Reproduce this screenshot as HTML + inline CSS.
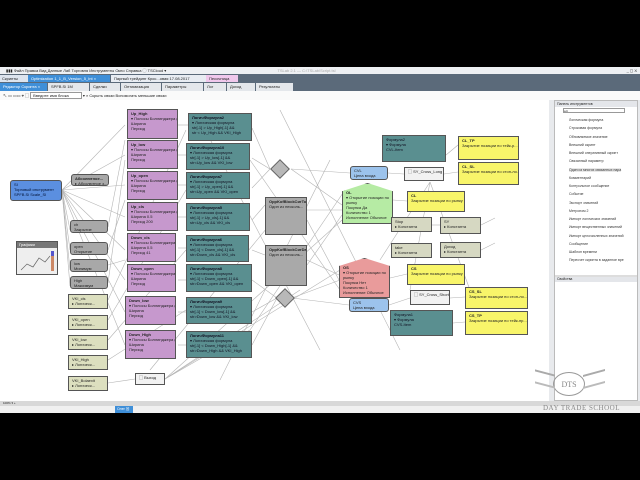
<!DOCTYPE html>
<html><head><meta charset="utf-8"><style>
*{margin:0;padding:0;box-sizing:border-box}
body{width:640px;height:480px;background:#000;position:relative;overflow:hidden;font-family:"Liberation Sans","Noto Sans CJK SC",sans-serif;font-size:4px;color:#222}
.a{position:absolute}
.n{position:absolute;border:1px solid #555;line-height:5px;padding:1px 3px;overflow:hidden;white-space:nowrap}
.pk{background:#c698cd}
.tl{background:#5a8f90;color:#112}
.gr{background:#a8a8a8;border-radius:3px}
.bl{background:#9cc3ec;border-radius:3px}
.vk{background:#dcdfbf}
.yl{background:#f8f56a}
.bg{background:#d6d8c2}
.b{font-weight:bold}
</style></head><body>
<div class="a" style="left:0;top:67px;width:640px;height:346px;background:#fff"></div>
<div class="a" style="left:0;top:67px;width:640px;height:7px;background:#eef0f3;font-size:4px;line-height:7px;padding-left:6px">▮▮▮ Файл Правка Вид Данные Лаб Торговля Инструменты Окно Справка ◯ TSCloud ▾ <span style="margin-left:110px;color:#aaa">TSLab 2.1 — C:\TSLab\Script.tsl</span><span style="position:absolute;right:3px">_ ◻ X</span></div>
<div class="a" style="left:0;top:74px;width:640px;height:8px;background:#5b6a7a"></div>
<div class="a" style="left:0;top:75px;width:28px;height:7px;background:#dde4ee;line-height:7px;padding-left:2px">Скрипты</div>
<div class="a" style="left:28px;top:75px;width:82px;height:7px;background:#3f8fd8;color:#fff;line-height:7px;padding-left:3px">Optimization 1_1_B_Version_5_Int ×</div>
<div class="a" style="left:111px;top:75px;width:95px;height:7px;background:#e8ecf2;line-height:7px;padding-left:3px">Парный трейдинг Крос...овая 17.08.2017</div>
<div class="a" style="left:206px;top:75px;width:32px;height:7px;background:#f0c8ec;line-height:7px;padding-left:3px">Песочница</div>
<div class="a" style="left:0;top:82px;width:640px;height:9px;background:#5b6a7a"></div>
<div class="a" style="left:0;top:83px;width:47px;height:8px;background:#3f8fd8;color:#fff;line-height:8px;padding-left:3px">Редактор Скрипта ×</div>
<div class="a" style="left:48px;top:83px;width:41px;height:8px;background:#e4e7eb;line-height:8px;padding-left:3px">SPFB.Si 1M</div>
<div class="a" style="left:90px;top:83px;width:30px;height:8px;background:#e4e7eb;line-height:8px;padding-left:3px">Сделки</div>
<div class="a" style="left:121px;top:83px;width:40px;height:8px;background:#e4e7eb;line-height:8px;padding-left:3px">Оптимизация</div>
<div class="a" style="left:162px;top:83px;width:41px;height:8px;background:#e4e7eb;line-height:8px;padding-left:3px">Параметры</div>
<div class="a" style="left:204px;top:83px;width:22px;height:8px;background:#e4e7eb;line-height:8px;padding-left:3px">Лог</div>
<div class="a" style="left:227px;top:83px;width:28px;height:8px;background:#e4e7eb;line-height:8px;padding-left:3px">Доход</div>
<div class="a" style="left:256px;top:83px;width:37px;height:8px;background:#e4e7eb;line-height:8px;padding-left:3px">Результаты</div>
<div class="a" style="left:0;top:91px;width:640px;height:9px;background:#fafafa;line-height:9px;padding-left:3px">↖ ▭ ▭▭ ⌖ ▢ <span style="border:1px solid #999;padding:0 12px 0 2px;background:#fff">Введите имя блока</span> ▾ <span>⌕ Скрыть связи Вспомогать меньшие связи</span></div>

<svg class="a" style="left:0;top:100px" width="550" height="302">
<g stroke="#b4b4b4" stroke-width="0.6" fill="none">
<line x1="62" y1="90" x2="125" y2="25"/><line x1="62" y1="90" x2="125" y2="55"/><line x1="62" y1="90" x2="125" y2="85"/><line x1="62" y1="90" x2="125" y2="117"/><line x1="62" y1="90" x2="125" y2="150"/><line x1="62" y1="90" x2="125" y2="180"/><line x1="62" y1="90" x2="125" y2="212"/><line x1="62" y1="90" x2="125" y2="245"/>
<line x1="62" y1="90" x2="70" y2="130"/><line x1="62" y1="90" x2="70" y2="150"/><line x1="62" y1="90" x2="70" y2="170"/><line x1="62" y1="90" x2="70" y2="186"/>
<line x1="108" y1="127" x2="125" y2="40"/><line x1="108" y1="150" x2="125" y2="100"/><line x1="108" y1="165" x2="125" y2="160"/><line x1="108" y1="183" x2="125" y2="60"/>
<line x1="108" y1="200" x2="186" y2="30"/><line x1="108" y1="220" x2="186" y2="90"/><line x1="108" y1="240" x2="186" y2="150"/><line x1="108" y1="260" x2="186" y2="210"/><line x1="108" y1="283" x2="135" y2="279"/>
<line x1="178" y1="25" x2="188" y2="25"/><line x1="178" y1="55" x2="188" y2="55"/><line x1="178" y1="85" x2="188" y2="85"/><line x1="178" y1="117" x2="188" y2="117"/><line x1="178" y1="148" x2="188" y2="148"/><line x1="178" y1="180" x2="188" y2="180"/><line x1="178" y1="212" x2="188" y2="212"/><line x1="178" y1="245" x2="188" y2="245"/>
<line x1="252" y1="28" x2="270" y2="69"/><line x1="252" y1="58" x2="270" y2="69"/><line x1="252" y1="88" x2="270" y2="69"/><line x1="252" y1="120" x2="265" y2="105"/><line x1="252" y1="150" x2="265" y2="155"/><line x1="252" y1="180" x2="277" y2="198"/><line x1="252" y1="212" x2="277" y2="198"/><line x1="252" y1="245" x2="277" y2="198"/>
<line x1="291" y1="69" x2="350" y2="73"/><line x1="291" y1="69" x2="342" y2="105"/><line x1="292" y1="198" x2="340" y2="180"/><line x1="292" y1="198" x2="349" y2="205"/>
<line x1="165" y1="279" x2="340" y2="170"/><line x1="165" y1="279" x2="342" y2="120"/><line x1="165" y1="279" x2="300" y2="190"/><line x1="165" y1="279" x2="250" y2="230"/>
<line x1="307" y1="110" x2="342" y2="110"/><line x1="307" y1="160" x2="339" y2="175"/><line x1="307" y1="120" x2="339" y2="180"/><line x1="307" y1="165" x2="342" y2="115"/>
<line x1="200" y1="20" x2="320" y2="250"/><line x1="220" y1="280" x2="330" y2="60"/><line x1="150" y1="270" x2="290" y2="100"/><line x1="280" y1="10" x2="400" y2="250"/><line x1="250" y1="60" x2="340" y2="190"/><line x1="250" y1="230" x2="345" y2="90"/>
<line x1="388" y1="73" x2="404" y2="74"/><line x1="446" y1="55" x2="458" y2="45"/><line x1="444" y1="74" x2="458" y2="72"/><line x1="393" y1="100" x2="407" y2="101"/><line x1="390" y1="178" x2="407" y2="174"/><line x1="389" y1="205" x2="410" y2="198"/><line x1="450" y1="198" x2="465" y2="197"/><line x1="453" y1="223" x2="465" y2="222"/>
<line x1="430" y1="82" x2="380" y2="160"/><line x1="430" y1="82" x2="470" y2="190"/><line x1="430" y1="82" x2="410" y2="190"/><line x1="432" y1="125" x2="440" y2="125"/><line x1="481" y1="125" x2="495" y2="118"/><line x1="481" y1="150" x2="495" y2="143"/>
</g>
</svg>

<div class="n bl" style="left:10px;top:180px;width:52px;height:21px;background:#5b8fe0;color:#013">SI<br>Торговый инструмент<br>SPFB.Si Scale_SI</div>
<div class="n gr b" style="left:71px;top:174px;width:38px;height:12px">Абсолютное...<br><span style="font-weight:normal">▸ Абсолютное з...</span></div>
<div class="n" style="left:16px;top:241px;width:42px;height:34px;background:#eee;padding:0"><div style="background:#777;color:#fff;height:6px;line-height:6px;padding-left:2px">Графики</div>
<svg width="40" height="27"><polyline points="4,22 10,16 16,19 22,10 28,14 33,8" fill="none" stroke="#666" stroke-width="0.7"/><rect x="34" y="5" width="3" height="18" fill="#c86"/><rect x="34" y="3" width="3" height="5" fill="#55c"/></svg></div>
<div class="n gr" style="left:70px;top:220px;width:38px;height:13px">ch<br>Закрытие</div>
<div class="n gr" style="left:70px;top:242px;width:38px;height:13px">open<br>Открытие</div>
<div class="n gr" style="left:70px;top:259px;width:38px;height:13px">low<br>Минимум</div>
<div class="n gr" style="left:70px;top:276px;width:38px;height:13px">High<br>Максимум</div>
<div class="n vk" style="left:68px;top:294px;width:40px;height:15px">VKI_cls<br>▸ Логическ...</div>
<div class="n vk" style="left:68px;top:315px;width:40px;height:15px">VKI_open<br>▸ Логическ...</div>
<div class="n vk" style="left:68px;top:335px;width:40px;height:15px">VKI_low<br>▸ Логическ...</div>
<div class="n vk" style="left:68px;top:355px;width:40px;height:15px">VKI_High<br>▸ Логическ...</div>
<div class="n vk" style="left:68px;top:376px;width:40px;height:15px">VKI_Bolaexit<br>▸ Логическ...</div>
<div class="n" style="left:135px;top:373px;width:30px;height:12px;background:#f2f2f2">▢ Выход</div>

<div class="n pk" style="left:127px;top:109px;width:51px;height:30px"><b>Up_High</b><br>▾ Полосы Боллинджера (+)<br>Ширина<br>Период</div>
<div class="n pk" style="left:127px;top:140px;width:51px;height:29px"><b>Up_low</b><br>▾ Полосы Боллинджера (+)<br>Ширина<br>Период</div>
<div class="n pk" style="left:127px;top:171px;width:51px;height:29px"><b>Up_open</b><br>▾ Полосы Боллинджера (+)<br>Ширина<br>Период</div>
<div class="n pk" style="left:127px;top:202px;width:51px;height:29px"><b>Up_cls</b><br>▾ Полосы Боллинджера (+)<br>Ширина 0.5<br>Период 200</div>
<div class="n pk" style="left:127px;top:233px;width:49px;height:29px"><b>Down_cls</b><br>▾ Полосы Боллинджера (-)<br>Ширина 0.5<br>Период 41</div>
<div class="n pk" style="left:127px;top:264px;width:49px;height:28px"><b>Down_open</b><br>▾ Полосы Боллинджера (-)<br>Ширина<br>Период</div>
<div class="n pk" style="left:125px;top:296px;width:51px;height:29px"><b>Down_low</b><br>▾ Полосы Боллинджера (-)<br>Ширина<br>Период</div>
<div class="n pk" style="left:125px;top:330px;width:51px;height:29px"><b>Down_High</b><br>▾ Полосы Боллинджера (-)<br>Ширина<br>Период</div>

<div class="n tl" style="left:188px;top:113px;width:64px;height:28px"><b>ЛогичФормула2</b><br>▾ Логическая формула<br>str[-1] &gt; Up_High[-1] &amp;&amp;<br>str &lt; Up_High &amp;&amp; VKI_High</div>
<div class="n tl" style="left:186px;top:143px;width:64px;height:27px"><b>ЛогичФормула10</b><br>▾ Логическая формула<br>str[-1] &gt; Up_low[-1] &amp;&amp;<br>str&lt;Up_low &amp;&amp; VKI_low</div>
<div class="n tl" style="left:186px;top:172px;width:64px;height:27px"><b>ЛогичФормула7</b><br>▾ Логическая формула<br>str[-1] &gt; Up_open[-1] &amp;&amp;<br>str&lt;Up_open &amp;&amp; VKI_open</div>
<div class="n tl" style="left:186px;top:203px;width:64px;height:28px"><b>ЛогичФормула5</b><br>▾ Логическая формула<br>str[-1] &gt; Up_cls[-1] &amp;&amp;<br>str&lt;Up_cls &amp;&amp; VKI_cls</div>
<div class="n tl" style="left:186px;top:235px;width:63px;height:27px"><b>ЛогичФормула6</b><br>▾ Логическая формула<br>str[-1] &lt; Down_cls[-1] &amp;&amp;<br>str&gt;Down_cls &amp;&amp; VKI_cls</div>
<div class="n tl" style="left:186px;top:264px;width:66px;height:28px"><b>ЛогичФормула8</b><br>▾ Логическая формула<br>str[-1] &lt; Down_open[-1] &amp;&amp;<br>str&gt;Down_open &amp;&amp; VKI_open</div>
<div class="n tl" style="left:186px;top:297px;width:66px;height:27px"><b>ЛогичФормула9</b><br>▾ Логическая формула<br>str[-1] &lt; Down_low[-1] &amp;&amp;<br>str&gt;Down_low &amp;&amp; VKI_low</div>
<div class="n tl" style="left:186px;top:331px;width:66px;height:27px"><b>ЛогичФормула11</b><br>▾ Логическая формула<br>str[-1] &lt; Down_High[-1] &amp;&amp;<br>str&gt;Down_High &amp;&amp; VKI_High</div>

<div class="a" style="left:273px;top:162px;width:14px;height:14px;background:#b8b8b8;border:1px solid #666;transform:rotate(45deg)"></div>
<div class="a" style="left:278px;top:291px;width:14px;height:14px;background:#b8b8b8;border:1px solid #666;transform:rotate(45deg)"></div>
<div class="n" style="left:265px;top:197px;width:42px;height:38px;background:#a9a9a9"><b>OppKofBlockСигТор</b><br>Один из несколь...</div>
<div class="n" style="left:265px;top:245px;width:42px;height:41px;background:#a9a9a9"><b>OppKofBlockСигDay</b><br>Один из несколь...</div>

<div class="n tl" style="left:382px;top:135px;width:64px;height:27px">Формула2<br>▾ Формула<br>CVL-Item</div>
<div class="n yl" style="left:458px;top:136px;width:61px;height:24px"><b>CL_TP</b><br>Закрытие позиции по тейк-р...</div>
<div class="n yl" style="left:458px;top:162px;width:61px;height:23px"><b>CL_SL</b><br>Закрытие позиции по стоп-ло...</div>
<div class="n bl" style="left:350px;top:166px;width:38px;height:14px">CVL<br>Цена входа</div>
<div class="n" style="left:404px;top:167px;width:40px;height:14px;background:#f2f2f2">▢ SY_Cross_Long</div>
<div class="n" style="left:342px;top:183px;width:51px;height:41px;background:#b6eba4;clip-path:polygon(0 20%,50% 0,100% 20%,100% 100%,0 100%)"><br><b>OL</b><br>▾ Открытие позиции по<br>рынку<br>Покупка Да<br>Количество 1<br>Исполнение Обычное</div>
<div class="n yl" style="left:407px;top:191px;width:58px;height:21px"><b>CL</b><br>Закрытие позиции по рынку</div>
<div class="n bg" style="left:391px;top:217px;width:41px;height:15px">Stop<br>▸ Константа</div>
<div class="n bg" style="left:440px;top:217px;width:41px;height:17px">SY<br>▸ Константа</div>
<div class="n bg" style="left:391px;top:243px;width:41px;height:15px">take<br>▸ Константа</div>
<div class="n bg" style="left:440px;top:242px;width:41px;height:16px">Доход<br>▸ Константа</div>
<div class="n" style="left:339px;top:258px;width:51px;height:40px;background:#e99b9b;clip-path:polygon(0 20%,50% 0,100% 20%,100% 100%,0 100%)"><br><b>OS</b><br>▾ Открытие позиции по<br>рынку<br>Покупка Нет<br>Количество 1<br>Исполнение Обычное</div>
<div class="n yl" style="left:407px;top:264px;width:58px;height:21px"><b>CS</b><br>Закрытие позиции по рынку</div>
<div class="n" style="left:410px;top:290px;width:40px;height:15px;background:#f2f2f2">▢ SY_Cross_Short</div>
<div class="n bl" style="left:349px;top:298px;width:40px;height:14px">CVS<br>Цена входа</div>
<div class="n tl" style="left:390px;top:310px;width:63px;height:26px">Формула1<br>▾ Формула<br>CVS-Item</div>
<div class="n yl" style="left:465px;top:287px;width:63px;height:22px"><b>CS_SL</b><br>Закрытие позиции по стоп-ло...</div>
<div class="n yl" style="left:465px;top:311px;width:63px;height:24px"><b>CS_TP</b><br>Закрытие позиции по тейк-пр...</div>

<div class="a" style="left:549px;top:100px;width:91px;height:302px;background:#e8eaed"></div>
<div class="a" style="left:554px;top:100px;width:84px;height:301px;background:#fff;border:1px solid #bbb">
<div style="background:#e4e6ea;height:6px;line-height:6px;padding-left:2px;font-size:3.5px">Панель инструментов</div>
<div style="height:7px;padding:1px 2px"><div style="border:1px solid #999;height:5px;width:62px;margin-left:6px;font-size:3px">a.b</div></div>
<div style="padding-left:14px;font-size:3.5px;line-height:8.25px;color:#333;margin-top:2px">
Логическая формула<br>Строковая формула<br>Обновляемое значение<br>Внешний скрипт<br>Внешний оперативный скрипт<br>Связанный параметр<br><span style="background:#e8e8e8">Один из многих связанных пара</span><br>Комментарий<br>Контрольное сообщение<br>Событие<br>Экспорт значений<br>Метроном 2<br>Импорт логических значений<br>Импорт вещественных значений<br>Импорт целочисленных значений<br>Сообщение<br>Шаблон времени<br>Пересчет скрипта в заданное вре
</div>
<div style="position:absolute;top:174px;left:0;width:82px;height:4px;background:#ddd"></div>
<div style="position:absolute;top:176px;left:0;width:82px;height:5px;background:#e4e6ea;font-size:3.5px;line-height:5px;padding-left:2px">Свойства</div>
</div>
<div class="a" style="left:0;top:401px;width:640px;height:5px;background:#d8d8d8;font-size:3px;line-height:5px;padding-left:3px">100% ▾ +</div>
<div class="a" style="left:0;top:406px;width:640px;height:7px;background:#f0f0f0"></div>
<div class="a" style="left:115px;top:406px;width:18px;height:7px;background:#3f8fd8;color:#fff;font-size:3.5px;line-height:7px;padding-left:2px">Олег ⊠</div>
<div class="a" style="left:553px;top:372px;width:32px;height:24px;border:1px solid #999;border-radius:50%;font-family:'Liberation Serif',serif;font-size:8px;color:#888;text-align:center;line-height:24px">DTS</div>
<div class="a" style="left:535px;top:372px;width:20px;height:14px;border-top:2px solid #aaa;border-bottom:2px solid #bbb;transform:skewY(15deg)"></div>
<div class="a" style="left:583px;top:372px;width:22px;height:14px;border-top:2px solid #aaa;border-bottom:2px solid #bbb;transform:skewY(-15deg)"></div>
<div class="a" style="left:543px;top:404px;width:100px;height:9px;font-family:'Liberation Serif',serif;font-size:7px;color:#888;letter-spacing:0.5px">DAY TRADE SCHOOL</div>
</body></html>
